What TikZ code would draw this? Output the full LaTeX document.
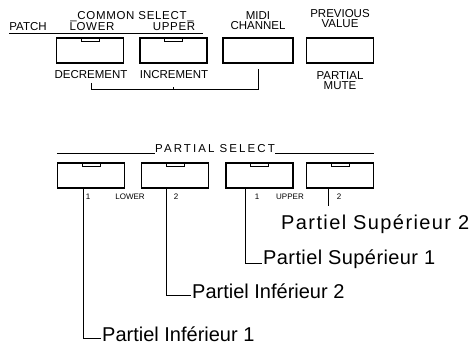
\documentclass[tikz,border=0pt]{standalone}
\usepackage{fontspec}
\setmainfont{Liberation Sans}
\newfontfamily\widecaps[LetterSpace=18]{Liberation Sans}
\newfontfamily\loosecaps[LetterSpace=6]{Liberation Sans}
\usetikzlibrary{positioning}

\tikzset{
  btn/.style={draw, line width=1.1pt, minimum width=67pt, minimum height=25pt, inner sep=0pt},
  capslbl/.style={font=\fontsize{11.5}{10.5}\selectfont, inner sep=0pt, align=center},
  smalllbl/.style={font=\fontsize{8}{8}\selectfont, inner sep=0pt},
  partlbl/.style={font=\fontsize{20}{20}\selectfont, inner sep=1pt, anchor=west},
  lead/.style={line width=0.9pt}
}

\begin{document}
\begin{tikzpicture}[x=1pt, y=-1pt]
  \useasboundingbox (0,0) rectangle (475,353);
  % top panel
  \foreach \x/\name in {90/lw, 173.5/up, 340/prev}{
    \node[btn] (\name) at (\x,50.5) {};
  }
  \node[btn, minimum width=70pt] (midi) at (258,50.5) {};
  \node[capslbl, anchor=base] (patch) at (28,31) {PATCH};
  \node[capslbl, font=\loosecaps\fontsize{11.5}{10.5}\selectfont, anchor=base] (lower) at (92,31) {LOWER};
  \node[capslbl, font=\loosecaps\fontsize{11.5}{10.5}\selectfont, anchor=base] (upper) at (174,31) {UPPER};
  \node[capslbl, font=\loosecaps\fontsize{11.5}{10.5}\selectfont, anchor=base] (common) at (132,19.5) {\_COMMON SELECT\_};
  \draw[lead] ([yshift=-2.5pt]patch.base west) -- ([xshift=8pt, yshift=-2.5pt]upper.base east);
  \node[capslbl] (chan) at (258,20.5) {MIDI\\CHANNEL};
  \node[capslbl] (prevval) at (340,18.5) {PREVIOUS\\VALUE};
  \node[capslbl] (dec) at (91,75) {DECREMENT};
  \node[capslbl] (inc) at (174,75) {INCREMENT};
  \node[capslbl] (mute) at (340,80.5) {PARTIAL\\MUTE};
  \draw[lead] ([yshift=-3.5pt]dec.south) |- ([yshift=-26pt]midi.south) -- ([yshift=-5pt]midi.south);
  \draw[lead] ([yshift=-26pt]up.south) -- ([yshift=-23pt]up.south);

  % partial select
  \node[capslbl, font=\widecaps\fontsize{11.5}{10.5}\selectfont, anchor=base] (psel) at (215,153) {PARTIAL SELECT};
  \foreach \x/\name in {91/lo1, 175/lo2, 259.5/lo3, 340/lo4}{
    \node[btn] (\name) at (\x,175.5) {};
  }
  \draw[lead] (lo1.north west |- psel.base) -- (psel.base west);
  \draw[lead] (psel.base east) -- (lo4.north east |- psel.base);
  \foreach \n in {lw, up, lo1, lo2, lo3, lo4}{
    \draw[lead] ([xshift=-9pt]\n.north) rectangle ([xshift=9pt, yshift=-4pt]\n.north);
  }
  \node[smalllbl] (one1) at (88,197) {1};
  \node[smalllbl] (lowr) at (130,197) {LOWER};
  \node[smalllbl] (two1) at (176,197) {2};
  \node[smalllbl] (one2) at (257,197) {1};
  \node[smalllbl] (uppr) at (290,197) {UPPER};
  \node[smalllbl] (two2) at (339,197) {2};

  \node[partlbl] (pi1) at (101,334) {Partiel Inférieur 1};
  \node[partlbl] (pi2) at (191,291) {Partiel Inférieur 2};
  \node[partlbl] (ps1) at (262,259) {\addfontfeature{LetterSpace=2}Partiel Supérieur 1};
  \node[partlbl] (ps2) at (280,224) {\addfontfeature{LetterSpace=7}Partiel Supérieur 2};
  \draw[lead] (lo1.south west) ++(26,0) |- ([yshift=-4pt]pi1.west);
  \draw[lead] (lo2.south west) ++(25,0) |- ([yshift=-4pt]pi2.west);
  \draw[lead] (lo3.south west) ++(20,0) |- ([yshift=-4pt]ps1.west);
  \draw[lead] (lo4.south west) ++(22,0) -- ++(0,17);
\end{tikzpicture}
\end{document}
